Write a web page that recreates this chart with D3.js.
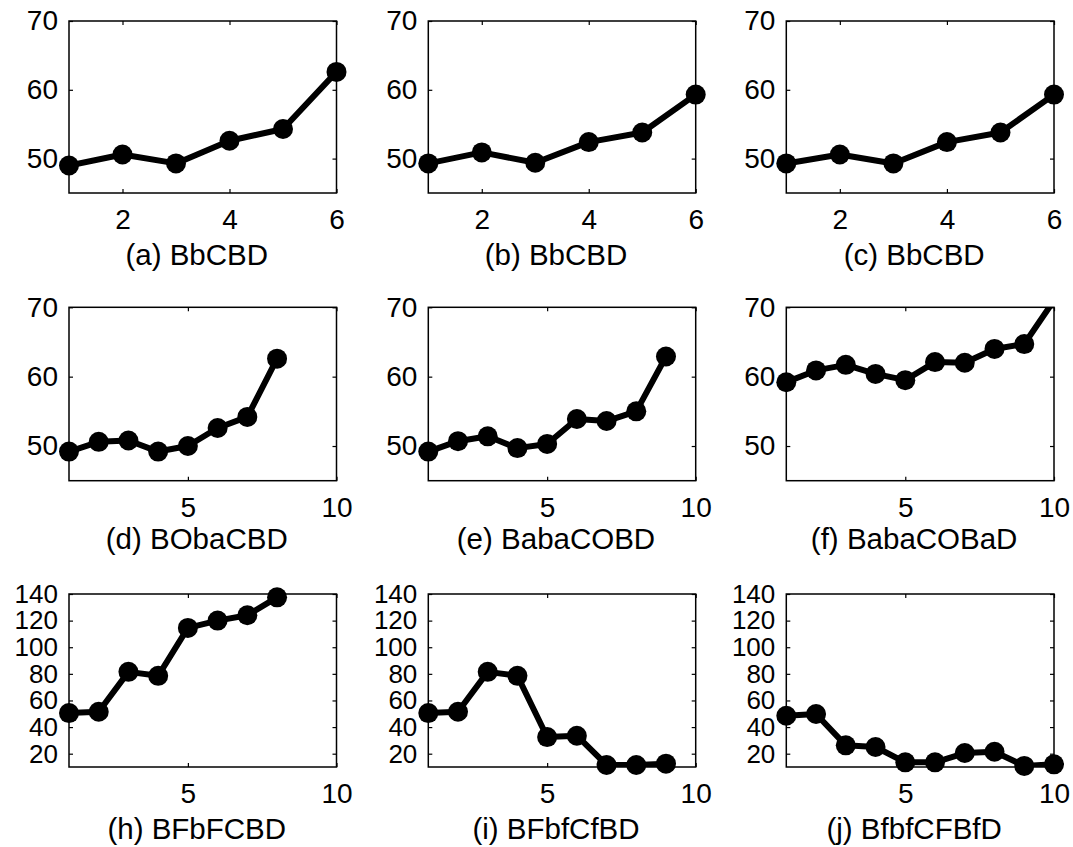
<!DOCTYPE html>
<html>
<head>
<meta charset="utf-8">
<script src="https://cdn.jsdelivr.net/npm/d3@7"></script>
<style>
  body { margin: 0; background: #fff; }
  text { font-family: "Liberation Sans", Arial, Helvetica, sans-serif; }
</style>
</head>
<body>
<div id="chart"></div>
<script>
// Figure size
var svgWidth = 1073;
var svgHeight = 847;

// Panel titles, in reading order
var titles = ["(a) BbCBD", "(b) BbCBD", "(c) BbCBD",
              "(d) BObaCBD", "(e) BabaCOBD", "(f) BabaCOBaD",
              "(h) BFbFCBD", "(i) BFbfCfBD", "(j) BfbfCFBfD"];

// values (x = 1, 2, 3, ...)
var valuesA = [49.0, 50.6, 49.3, 52.6, 54.3, 62.6];
var valuesB = [49.3, 50.9, 49.4, 52.4, 53.8, 59.3];
var valuesC = [49.3, 50.6, 49.3, 52.4, 53.8, 59.3];
var valuesD = [49.2, 50.6, 50.8, 49.2, 50.0, 52.6, 54.2, 62.6];
var valuesE = [49.2, 50.7, 51.4, 49.7, 50.3, 53.9, 53.6, 55.0, 62.9];
var valuesF = [59.2, 60.9, 61.7, 60.4, 59.5, 62.1, 62.0, 64.0, 64.7, 71.0];
var valuesH = [50.5, 51.5, 81.5, 78.5, 114.5, 120.0, 124.0, 137.5];
var valuesI = [50.5, 51.5, 81.5, 78.5, 32.5, 33.5, 11.5, 11.5, 12.5];
var valuesJ = [48.5, 49.8, 26.3, 25.0, 13.5, 13.5, 20.5, 21.5, 10.8, 12.0];

var allValues = [valuesA, valuesB, valuesC, valuesD, valuesE, valuesF, valuesH, valuesI, valuesJ];

// axis limits and tick labels per row
var rowXDomain = [[1, 6], [1, 10], [1, 10]];
var rowYDomain = [[45, 70], [45, 70], [10, 140]];
var rowXTicks = [[2, 4, 6], [5, 10], [5, 10]];
var rowYTicks = [[50, 60, 70], [50, 60, 70], [20, 40, 60, 80, 100, 120, 140]];

// plot box positions (measured in pixels)
var colLeft = [69, 428.3, 786.3];
var colRight = [336.5, 695.7, 1054];
var rowTop = [21, 307.3, 594];
var rowBottom = [193, 480.7, 767];
var titleOffset = [72, 68.5, 71.5];

var fontSize = 28;
var rowYFont = [28, 28, 26];
var titleFont = 29.5;

var svg = d3.select("#chart")
  .append("svg")
  .attr("width", svgWidth)
  .attr("height", svgHeight);

allValues.forEach(function(values, i) {
  var row = Math.floor(i / 3);
  var col = i % 3;
  var left = colLeft[col], right = colRight[col];
  var top = rowTop[row], bottom = rowBottom[row];
  var w = right - left, h = bottom - top;

  var xScale = d3.scaleLinear().domain(rowXDomain[row]).range([0, w]);
  var yScale = d3.scaleLinear().domain(rowYDomain[row]).range([h, 0]);

  var g = svg.append("g")
    .attr("transform", "translate(" + left + "," + top + ")");

  g.append("clipPath")
    .attr("id", "clip" + i)
    .append("rect")
    .attr("width", w)
    .attr("height", h);

  // inward ticks on all four sides
  var bottomAxis = d3.axisBottom(xScale).tickValues(rowXTicks[row])
    .tickFormat(d3.format("d"))
    .tickSizeInner(-4).tickSizeOuter(0).tickPadding(16);
  var topAxis = d3.axisTop(xScale).tickValues(rowXTicks[row])
    .tickSizeInner(-4).tickSizeOuter(0).tickFormat("");
  var leftAxis = d3.axisLeft(yScale).tickValues(rowYTicks[row])
    .tickFormat(d3.format("d"))
    .tickSizeInner(-4).tickSizeOuter(0).tickPadding(11);
  var rightAxis = d3.axisRight(yScale).tickValues(rowYTicks[row])
    .tickSizeInner(-4).tickSizeOuter(0).tickFormat("");

  [[bottomAxis, "translate(0," + h + ")", fontSize], [topAxis, null, fontSize],
   [leftAxis, null, rowYFont[row]], [rightAxis, "translate(" + w + ",0)", fontSize]].forEach(function(a) {
    var ag = g.append("g").call(a[0]);
    if (a[1]) ag.attr("transform", a[1]);
    ag.select(".domain").remove();
    ag.selectAll("line").attr("stroke", "#000").attr("stroke-width", 1.2);
    ag.selectAll("text")
      .attr("fill", "#000")
      .style("font-size", a[2] + "px")
      .style("font-family", "'Liberation Sans', Arial, sans-serif");
  });

  g.append("rect")
    .attr("width", w)
    .attr("height", h)
    .attr("fill", "none")
    .attr("stroke", "#000")
    .attr("stroke-width", 1.5);

  var line = d3.line()
    .x(function(d, k) { return xScale(k + 1); })
    .y(function(d) { return yScale(d); });

  g.append("path")
    .datum(values)
    .attr("clip-path", "url(#clip" + i + ")")
    .attr("fill", "none")
    .attr("stroke", "#000")
    .attr("stroke-width", 6)
    .attr("stroke-linejoin", "round")
    .attr("d", line);

  // markers only where the point lies inside the axes limits
  var yDom = rowYDomain[row];
  g.selectAll("circle")
    .data(values.map(function(v, k) { return { x: k + 1, y: v }; })
      .filter(function(d) { return d.y >= yDom[0] && d.y <= yDom[1]; }))
    .enter().append("circle")
    .attr("cx", function(d) { return xScale(d.x); })
    .attr("cy", function(d) { return yScale(d.y); })
    .attr("r", 10)
    .attr("fill", "#000");

  g.append("text")
    .attr("x", w / 2 - 6)
    .attr("y", h + titleOffset[row])
    .attr("text-anchor", "middle")
    .style("font-size", titleFont + "px")
    .text(titles[i]);
});
</script>
</body>
</html>
